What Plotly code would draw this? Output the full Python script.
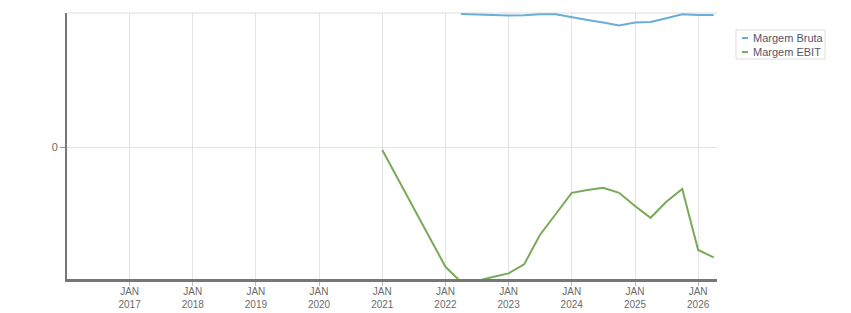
import plotly.graph_objects as go

quarters = ["2021-01-01", "2021-04-01", "2021-07-01", "2021-10-01",
            "2022-01-01", "2022-04-01", "2022-07-01", "2022-10-01",
            "2023-01-01", "2023-04-01", "2023-07-01", "2023-10-01",
            "2024-01-01", "2024-04-01", "2024-07-01", "2024-10-01",
            "2025-01-01", "2025-04-01", "2025-07-01", "2025-10-01",
            "2026-01-01", "2026-04-01"]

bruta_dates = quarters[5:]
margem_bruta = [66.5, 66.2, 65.7, 65.7, 65.9, 66.4, 66.4, 64.8, 63.5, 62.2, 60.7,
                62.2, 62.5, 64.4, 66.4, 66.0, 66.0]

ebit_dates = ["2021-01-01", "2022-01-01"] + quarters[5:]
margem_ebit = [-1.5, -59.9, -67.5, -67.0, -65.0, -63.2, -58.7, -44.0, -33.5, -22.9,
               -21.5, -20.4, -22.9, -29.5, -35.4, -27.4, -21.0, -51.5, -55.2]

series_names = ["Margem Bruta", "Margem EBIT"]
series_colors = ["#6aaed6", "#79aa5a"]

tick_years = list(range(2017, 2027))
tick_vals = [f"{y}-01-01" for y in tick_years]
tick_text = [f"JAN<br>{y}" for y in tick_years]

fig = go.Figure()
fig.add_trace(go.Scatter(x=bruta_dates, y=margem_bruta, mode="lines", name=series_names[0],
                         line=dict(color=series_colors[0], width=2)))
fig.add_trace(go.Scatter(x=ebit_dates, y=margem_ebit, mode="lines", name=series_names[1],
                         line=dict(color=series_colors[1], width=2)))

fig.update_layout(
    width=851, height=313,
    margin=dict(l=67, r=134, t=13, b=34),
    paper_bgcolor="white", plot_bgcolor="white",
    font=dict(family="Liberation Sans, Arial, sans-serif", size=10, color="#666666"),
    showlegend=False,
)
fig.update_xaxes(
    range=["2016-01-05", "2026-04-20"],
    tickvals=tick_vals, ticktext=tick_text,
    showgrid=True, gridcolor="#e3e3e3", gridwidth=1,
    showline=True, linecolor="#777777", linewidth=3,
    ticks="outside", ticklen=4, tickcolor="#bbbbbb",
    tickfont=dict(size=10, color="#6b6b6b"),
    ticklabelstandoff=-3,
    zeroline=False, automargin=False,
)
fig.update_yaxes(
    range=[-66, 67],
    tickvals=[0], ticktext=["0"],
    showgrid=True, gridcolor="#e3e3e3", gridwidth=1,
    showline=True, linecolor="#777777", linewidth=2,
    ticks="outside", ticklen=5, tickcolor="#999999",
    tickfont=dict(size=11, color="#6b6b6b"),
    zeroline=False, automargin=False,
)
fig.add_shape(type="line", xref="paper", yref="paper", x0=0, x1=1, y0=1, y1=1,
              line=dict(color="#dddddd", width=1), layer="below")

# compact legend box
fig.add_shape(type="rect", xref="paper", yref="paper", x0=1.0292, x1=1.1662, y0=0.827, y1=0.936,
              line=dict(color="#dddddd", width=1), fillcolor="white")
legend_y = [0.906, 0.853]
for name, color, ly in zip(series_names, series_colors, legend_y):
    fig.add_shape(type="line", xref="paper", yref="paper", x0=1.0385, x1=1.0477, y0=ly, y1=ly,
                  line=dict(color=color, width=2))
    fig.add_annotation(xref="paper", yref="paper", x=1.0523, y=ly, text=name, showarrow=False,
                       xanchor="left", yanchor="middle", font=dict(size=11, color="#555566"))

fig.write_html("out.html")
